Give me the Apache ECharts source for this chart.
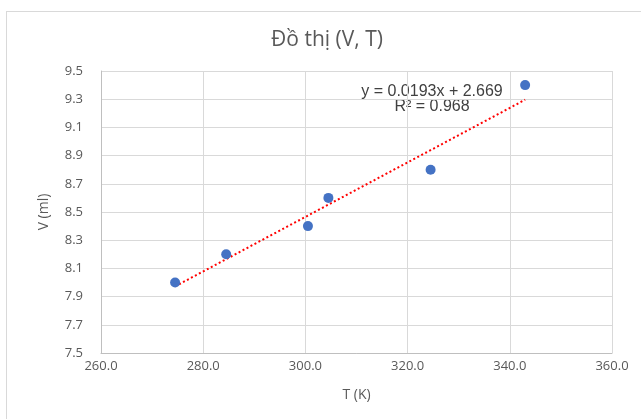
<!DOCTYPE html>
<html><head><meta charset="utf-8">
<script src="https://cdn.jsdelivr.net/npm/echarts@6/dist/echarts.min.js"></script>
<style>
html,body{margin:0;padding:0;background:#fff;}
#frame{position:absolute;left:6px;top:11px;width:700px;height:420px;border:1px solid #d9d9d9;box-sizing:border-box;}
#c{position:absolute;left:0;top:0;width:641px;height:419px;}
</style></head>
<body>
<div id="frame"></div>
<div id="c"></div>
<script>
const titleText = 'Đồ thị (V, T)';
const xName = 'T (K)';
const yName = 'V (ml)';
const temps = [274.5, 284.5, 300.5, 304.5, 324.5, 343.0];
const volumes = [8.0, 8.2, 8.4, 8.6, 8.8, 9.4];
const eqText = 'y = 0.0193x + 2.669';
const r2Text = 'R² = 0.968';

// least squares trendline from the data
const n = temps.length;
const mx = temps.reduce((a,b)=>a+b,0)/n;
const my = volumes.reduce((a,b)=>a+b,0)/n;
let sxy=0, sxx=0;
for(let i=0;i<n;i++){sxy+=(temps[i]-mx)*(volumes[i]-my);sxx+=(temps[i]-mx)**2;}
const slope = sxy/sxx, icpt = my - slope*mx;
const tMin = Math.min(...temps), tMax = Math.max(...temps);
const trend = [[tMin, slope*tMin+icpt],[tMax, slope*tMax+icpt]];

const chart = echarts.init(document.getElementById('c'));
const font = '"Open Sans", "Liberation Sans", sans-serif';
chart.setOption({
  animation:false,
  backgroundColor:'transparent',
  grid:{left:101,right:29,top:71,bottom:66},
  xAxis:{type:'value',min:260,max:360,interval:20,name:xName,nameLocation:'middle',nameGap:35,
    nameTextStyle:{fontFamily:font,fontSize:14,color:'#595959'},
    axisLine:{show:true,lineStyle:{color:'#bfbfbf'}},axisTick:{show:false},
    axisLabel:{fontFamily:font,fontSize:13,color:'#595959',formatter:v=>v.toFixed(1),margin:7},
    splitLine:{show:true,lineStyle:{color:'#d9d9d9'}}},
  yAxis:{type:'value',min:7.5,max:9.5,interval:0.2,name:yName,nameLocation:'middle',nameGap:50,
    nameTextStyle:{fontFamily:font,fontSize:14,color:'#595959'},
    axisLine:{show:true,lineStyle:{color:'#bfbfbf'}},axisTick:{show:false},
    axisLabel:{fontFamily:font,fontSize:13,color:'#595959',formatter:v=>v.toFixed(1),margin:18},
    splitLine:{show:true,lineStyle:{color:'#d9d9d9'}}},
  series:[
    {type:'line',data:trend,symbol:'none',lineStyle:{color:'#ff0000',width:2,type:[2,2.5]},z:1,silent:true},
    {type:'scatter',data:temps.map((t,i)=>[t,volumes[i]]),symbolSize:10,itemStyle:{color:'#4472c4',opacity:1},z:2}
  ],
  graphic:[
    {type:'text',x:327,y:40,style:{text:titleText,align:'center',verticalAlign:'middle',font:'21px "Open Sans", sans-serif',fill:'#595959'}},
    {type:'text',x:432,y:92,style:{text:eqText,align:'center',verticalAlign:'middle',font:'16px "Liberation Sans", Arial, sans-serif',fill:'#404040'}},
    {type:'text',x:432,y:107,style:{text:r2Text,align:'center',verticalAlign:'middle',font:'16px "Liberation Sans", Arial, sans-serif',fill:'#404040'}}
  ]
});
</script>
</body></html>
